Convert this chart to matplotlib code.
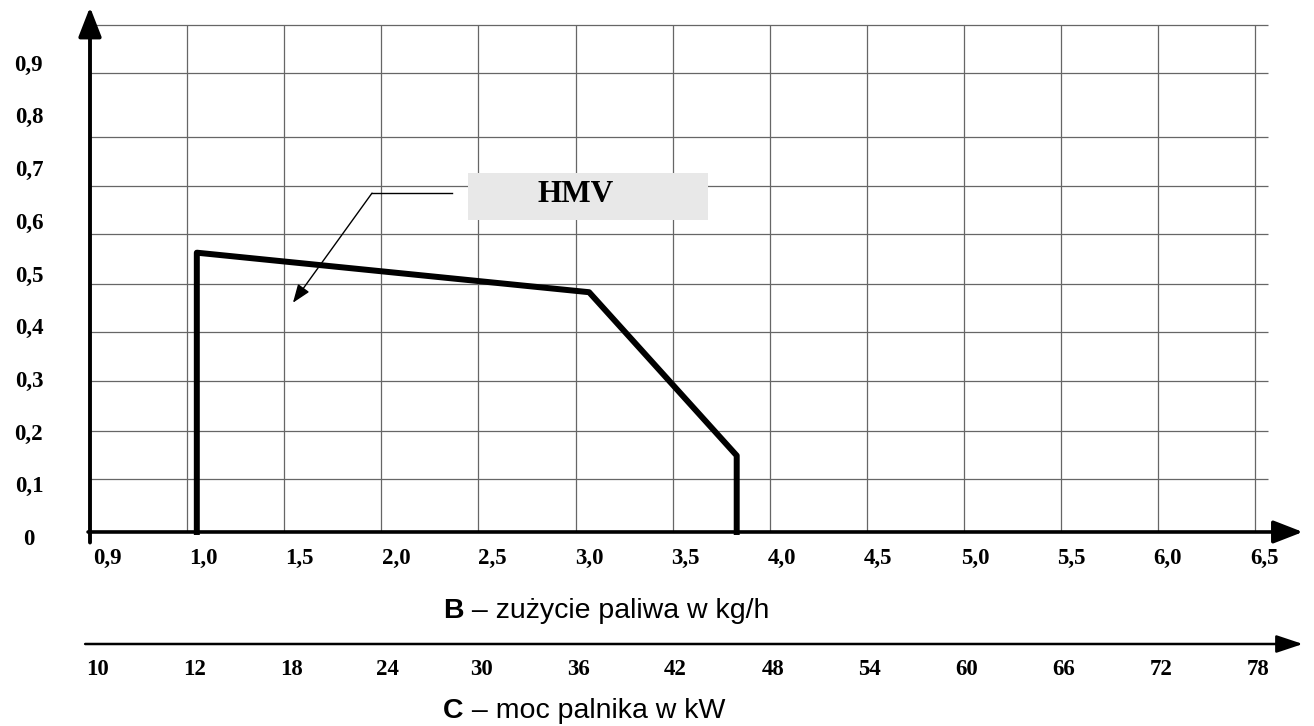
import numpy as np
import matplotlib
matplotlib.use("Agg")
import matplotlib.pyplot as plt
import matplotlib.transforms as mtransforms
from matplotlib.patches import Rectangle

# wartosci
fuel_ticks = [0.9, 1.0, 1.5, 2.0, 2.5, 3.0, 3.5, 4.0, 4.5, 5.0, 5.5, 6.0, 6.5]
fuel_labels = ["0,9", "1,0", "1,5", "2,0", "2,5", "3,0", "3,5", "4,0", "4,5", "5,0", "5,5", "6,0", "6,5"]
power_ticks = [10, 12, 18, 24, 30, 36, 42, 48, 54, 60, 66, 72, 78]
power_labels = [str(p) for p in power_ticks]
y_ticks = [0, 0.1, 0.2, 0.3, 0.4, 0.5, 0.6, 0.7, 0.8, 0.9]
y_labels = ["0", "0,1", "0,2", "0,3", "0,4", "0,5", "0,6", "0,7", "0,8", "0,9"]
hmv_fuel = [1.05, 1.05, 3.07, 3.83, 3.83]
hmv_value = [0, 0.53, 0.455, 0.145, 0]
grid_levels = [0.1006, 0.1917, 0.2865, 0.3795, 0.4705, 0.5655, 0.656, 0.75, 0.871, 0.962]

W, H = 1314, 726
serif = "Liberation Serif"
sans = "Liberation Sans"
tick_size = 16.5
title_size = 20.5


# os B: 0,9 -> 1,0 to jedna kratka, dalej kratka co 0,5
def fuel_fwd(b):
    b = np.asarray(b, dtype=float)
    return np.where(b < 1.0, (b - 0.9) / 0.1, 1 + (b - 1.0) / 0.5)


def fuel_inv(p):
    p = np.asarray(p, dtype=float)
    return np.where(p < 1, 0.9 + 0.1 * p, 1.0 + 0.5 * (p - 1))


# os C: 10 -> 12 to jedna kratka, dalej co 6 kW
def power_fwd(c):
    c = np.asarray(c, dtype=float)
    return np.where(c < 12, (c - 10) / 2.0, 1 + (c - 12) / 6.0)


def power_inv(p):
    p = np.asarray(p, dtype=float)
    return np.where(p < 1, 10 + 2.0 * p, 12 + 6.0 * (p - 1))


fig = plt.figure(figsize=(W / 100, H / 100), dpi=100)
fig.patch.set_facecolor("white")

ax = fig.add_axes([90 / W, (H - 545) / H, 1223.5 / W, 545 / H])
ax.set_xscale("function", functions=(fuel_fwd, fuel_inv))
ax.set_xlim(0.9, float(fuel_inv(12.6)))
ax.set_ylim(-0.0247, 1.0095)
for s in ax.spines.values():
    s.set_visible(False)

# siatka
ax.vlines(fuel_ticks[1:], 0, grid_levels[-1], color="#666666", lw=0.9, zorder=1)
ax.hlines(grid_levels, 0.9, 6.565, color="#666666", lw=0.9, zorder=1)

# osie ze strzalkami
ax.annotate("", xy=(float(fuel_inv(12.49)), 0), xytext=(0.898, 0),
            arrowprops=dict(arrowstyle="-|>,head_length=0.9,head_width=0.35", lw=2.6,
                            color="black", shrinkA=0, shrinkB=0, mutation_scale=20), zorder=4)
ax.annotate("", xy=(0.9, 0.996), xytext=(0.9, -0.02),
            arrowprops=dict(arrowstyle="-|>,head_length=0.9,head_width=0.35", lw=2.8,
                            color="black", shrinkA=0, shrinkB=0, mutation_scale=20), zorder=4)

# krzywa HMV
ax.plot(hmv_fuel, hmv_value, color="black", lw=4.3, solid_joinstyle="round", zorder=5)

# opis HMV
ax.add_patch(Rectangle((2.445, 0.592), 3.68 - 2.445, 0.681 - 0.592,
                       facecolor="#e8e8e8", edgecolor="none", zorder=3))
ax.text(3.0, 0.641, "HMV", family=serif, weight="bold", fontsize=22.5,
        ha="center", va="center", zorder=6)
ax.plot([2.364, 1.952], [0.643, 0.643], color="black", lw=1.0, zorder=6)
ax.annotate("", xy=(1.545, 0.435), xytext=(1.952, 0.643),
            arrowprops=dict(arrowstyle="-|>,head_length=0.8,head_width=0.3", lw=1.0,
                            color="black", shrinkA=0, shrinkB=0, mutation_scale=14), zorder=6)

# etykiety osi
ax.set_xticks(fuel_ticks, fuel_labels)
ax.set_yticks(y_ticks, y_labels)
ax.tick_params(axis="x", length=0, pad=2)
ax.tick_params(axis="y", length=0, pad=44)
y_off = mtransforms.ScaledTranslation(0, -0.05, fig.dpi_scale_trans)
for k, lbl in enumerate(ax.get_xticklabels()):
    lbl.set_fontfamily(serif)
    lbl.set_fontweight("bold")
    lbl.set_fontsize(tick_size)
    lbl.set_horizontalalignment("center")
    # w oryginale podpisy sa lekko przesuniete w prawo od linii siatki
    dx = (17 - 0.67 * k) / 100
    lbl.set_transform(lbl.get_transform() + mtransforms.ScaledTranslation(dx, 0, fig.dpi_scale_trans))
for lbl in ax.get_yticklabels():
    lbl.set_fontfamily(serif)
    lbl.set_fontweight("bold")
    lbl.set_fontsize(tick_size)
    lbl.set_horizontalalignment("center")
    lbl.set_transform(lbl.get_transform() + y_off)

# druga os - moc palnika
ax2 = fig.add_axes([90 / W, (H - 644) / H, 1223.5 / W, 10 / H])
ax2.set_xscale("function", functions=(power_fwd, power_inv))
ax2.set_xlim(10, float(power_inv(12.6)))
ax2.set_ylim(0, 1)
ax2.patch.set_visible(False)
for s in ax2.spines.values():
    s.set_visible(False)
ax2.annotate("", xy=(float(power_inv(12.49)), 0), xytext=(float(power_inv(-0.05)), 0),
             arrowprops=dict(arrowstyle="-|>,head_length=0.9,head_width=0.3", lw=1.8,
                             color="black", shrinkA=0, shrinkB=0, mutation_scale=18))
ax2.set_xticks(power_ticks, power_labels)
ax2.set_yticks([])
ax2.tick_params(axis="x", length=0, pad=11)
for k, lbl in enumerate(ax2.get_xticklabels()):
    lbl.set_fontfamily(serif)
    lbl.set_fontweight("bold")
    lbl.set_fontsize(tick_size)
    dx = (8 - 0.6 * k) / 100 if k < 4 else 0.03
    lbl.set_transform(lbl.get_transform() + mtransforms.ScaledTranslation(dx, 0, fig.dpi_scale_trans))

# podpisy osi
tb = fig.text(443 / W, 1 - 624 / H, "B", family=sans, weight="bold", fontsize=title_size, va="bottom")
ax.annotate(" \u2013 zużycie paliwa w kg/h", xy=(1, 0), xycoords=tb, va="bottom",
            family=sans, fontsize=title_size, annotation_clip=False)
tc = fig.text(443 / W, 1 - 724 / H, "C", family=sans, weight="bold", fontsize=title_size, va="bottom")
ax.annotate(" \u2013 moc palnika w kW", xy=(1, 0), xycoords=tc, va="bottom",
            family=sans, fontsize=title_size, annotation_clip=False)

fig.savefig("out.png", dpi=100, facecolor="white")
